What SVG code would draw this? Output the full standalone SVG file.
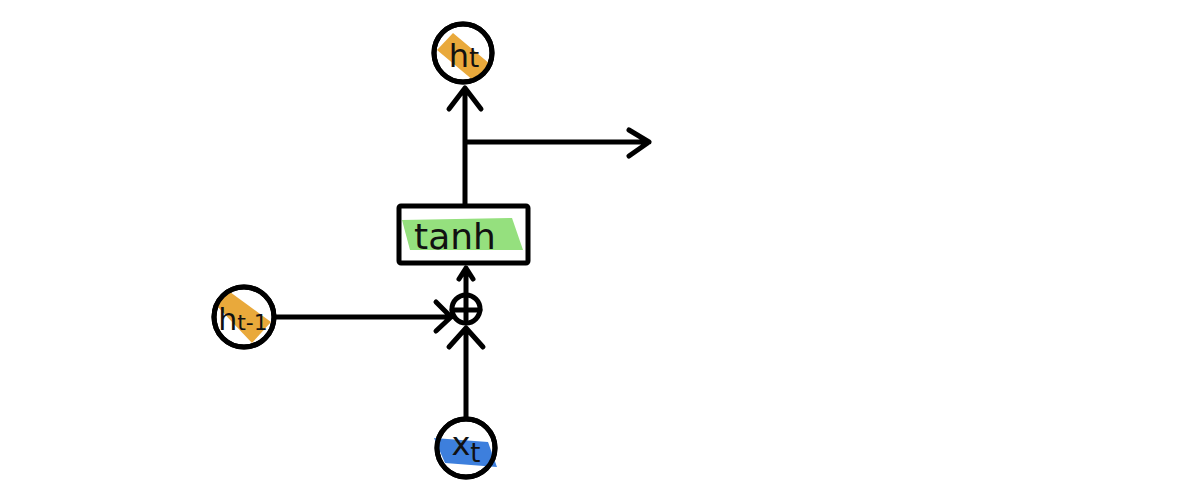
<svg xmlns="http://www.w3.org/2000/svg" width="1200" height="501" viewBox="0 0 1200 501">
<style>
.ln{fill:none;stroke:#000;stroke-width:5;stroke-linecap:round;stroke-linejoin:round}
.nd{fill:#fff;stroke:#000;stroke-width:5}
.tx{font-family:"DejaVu Sans",sans-serif;fill:#111}
</style>
<rect width="1200" height="501" fill="#fff"/>
<g id="connectors">
<path class="ln" d="M465,205 V88 M449,109 L465,88 L481,109"/>
<path class="ln" d="M466,142 H649 M629,130 L649,142 L629,156"/>
<path class="ln" d="M275,317 H451 M436,302 L451,317 L436,331"/>
<path class="ln" d="M466,418 V328 M449,347 L466,328 L483,347"/>
<path class="ln" d="M466,293 V268 M459,279 L466,268 L473,279"/>
</g>
<g id="node-ht">
<circle class="nd" cx="463" cy="53" r="29"/>
<polygon points="437,50 453,33 490,64 474,81" fill="#E9A93B"/>
<circle cx="463" cy="53" r="29" fill="none" stroke="#000" stroke-width="5"/>
<text class="tx" x="464" y="67" font-size="32" text-anchor="middle">h<tspan font-size="26">t</tspan></text>
</g>
<g id="node-tanh">
<rect x="399" y="206" width="129" height="57" fill="#fff" stroke="#000" stroke-width="5" rx="2"/>
<polygon points="402,220 512,218 523,250 410,250" fill="#95E07E"/>
<text class="tx" x="455" y="249" font-size="36" text-anchor="middle">tanh</text>
</g>
<g id="node-plus">
<circle class="nd" cx="466" cy="309" r="14"/>
<path class="ln" d="M452,310 H480 M466,295 V323"/>
</g>
<g id="node-ht-1">
<circle class="nd" cx="244" cy="317" r="30"/>
<polygon points="216,305 230,292 271,322 252,343" fill="#E9A93B"/>
<circle cx="244" cy="317" r="30" fill="none" stroke="#000" stroke-width="5"/>
<text class="tx" x="243" y="330" font-size="30" text-anchor="middle">h<tspan font-size="22">t-1</tspan></text>
</g>
<g id="node-xt">
<circle class="nd" cx="466" cy="448" r="29"/>
<polygon points="434,438 488,442 497,467 445,463" fill="#3D7FDD"/>
<circle cx="466" cy="448" r="29" fill="none" stroke="#000" stroke-width="5"/>
<text class="tx" x="466" y="455" font-size="32" text-anchor="middle">x<tspan font-size="26" dy="7">t</tspan></text>
</g>
</svg>
